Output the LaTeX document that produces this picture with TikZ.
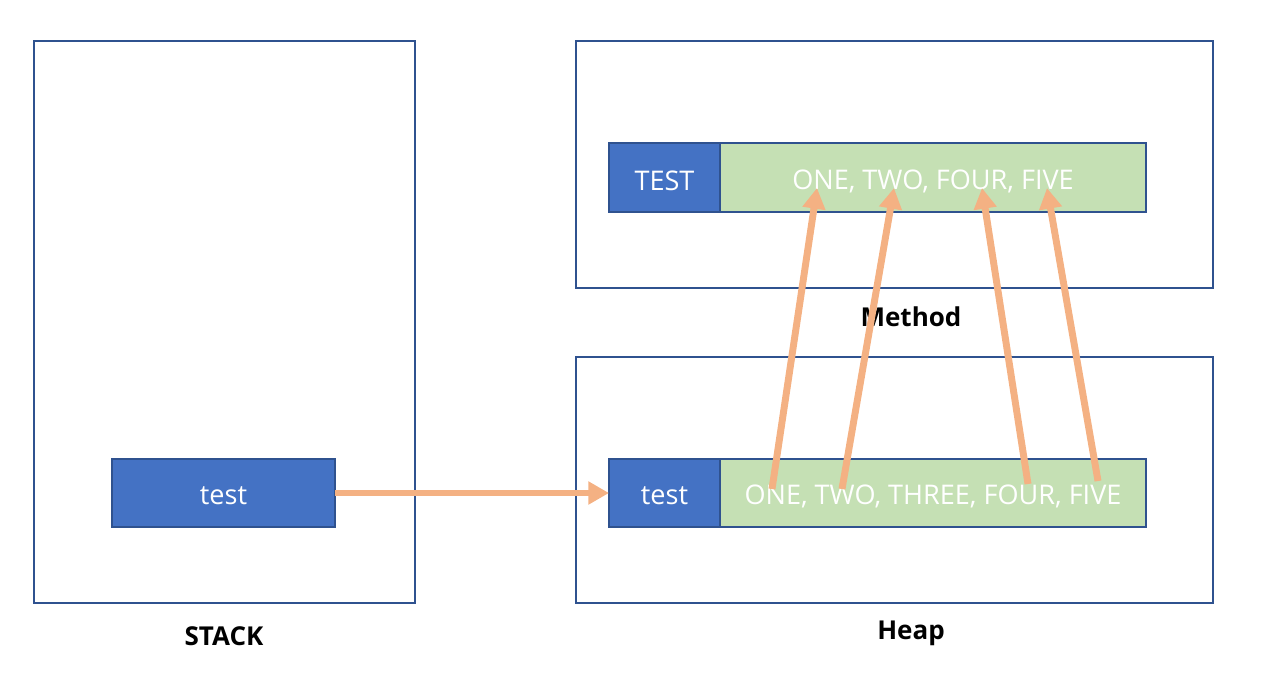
\documentclass[tikz,border=0pt]{standalone}
\usepackage{fontspec}
\setmainfont{Open Sans}
\usetikzlibrary{arrows.meta}
\definecolor{frameblue}{HTML}{2F528F}
\definecolor{boxblue}{HTML}{4472C4}
\definecolor{boxgreen}{HTML}{C5E0B4}
\definecolor{arroworange}{HTML}{F4B183}
\tikzset{
  region/.style={draw=frameblue, line width=1.5pt},
  keybox/.style={draw=frameblue, line width=1.5pt, fill=boxblue},
  valbox/.style={draw=frameblue, line width=1.5pt, fill=boxgreen},
  intext/.style={text=white, font=\fontsize{20.3}{22}\selectfont},
  caption/.style={font=\bfseries\fontsize{19.5}{22}\selectfont, text=black},
  ptr/.style={draw=arroworange, line width=5.2pt, -{Triangle[length=15.5pt,width=16.5pt]}}
}
\begin{document}
\begin{tikzpicture}[x=0.75pt,y=-0.75pt]
\useasboundingbox (0,0) rectangle (1262,683);
% regions
\draw[region] (34,41) rectangle (415,603);
\draw[region] (576,41) rectangle (1213,288);
\draw[region] (576,357) rectangle (1213,603);
% captions
\node[caption] (stacklbl) at (224,636) {STACK};
\node[caption] (methodlbl) at (911,317) {Method};
\node[caption] (heaplbl) at (911,633) {Heap};
% stack entry
\draw[keybox] (112,459) rectangle (335,527);
\node[intext] (stacktest) at (223.5,496) {test};
\coordinate (stackout) at (335,493);
% method area
\draw[keybox] (609,143) rectangle (720,212);
\draw[valbox] (720,143) rectangle (1146,212);
\node[intext] (mtest) at (664.5,181) {TEST};
\node[intext] (mvals) at (933,181) {ONE, TWO, FOUR, FIVE};
% heap area
\draw[keybox] (609,459) rectangle (720,527);
\draw[valbox] (720,459) rectangle (1146,527);
\node[intext] (htest) at (664.5,496) {test};
\node[intext] (hvals) at (933,496) {ONE, TWO, THREE, FOUR, FIVE};
\coordinate (heapin) at (609,493);
% pointer coordinates
\coordinate (h1) at (772,489);
\coordinate (h2) at (842,489);
\coordinate (h3) at (1028,484);
\coordinate (h4) at (1098,481);
\coordinate (m1) at (817,188);
\coordinate (m2) at (894,188);
\coordinate (m3) at (982,188);
\coordinate (m4) at (1047,188);
% arrows
\draw[ptr] (stackout) -- (heapin);
\draw[ptr] (h1) -- (m1);
\draw[ptr] (h2) -- (m2);
\draw[ptr] (h3) -- (m3);
\draw[ptr] (h4) -- (m4);
\end{tikzpicture}
\end{document}
